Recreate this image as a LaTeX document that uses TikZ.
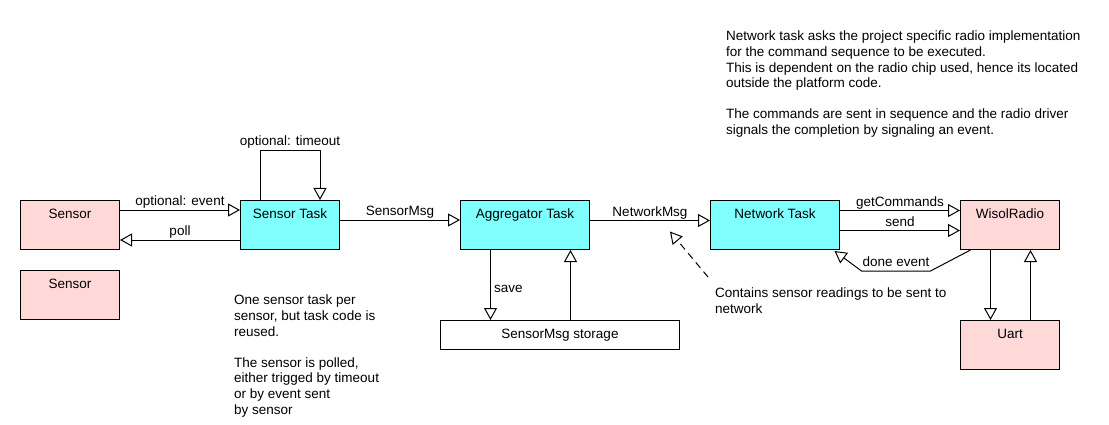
\documentclass[tikz,border=0pt]{standalone}
\usepackage{fontspec}
\setmainfont{Liberation Sans}
\usetikzlibrary{arrows.meta,calc}
\definecolor{sensorpink}{RGB}{255,216,216}
\definecolor{taskcyan}{RGB}{128,255,255}
\tikzset{
  box/.style={draw, line width=1pt, minimum width=99pt, inner xsep=0pt, inner ysep=0pt,
    text height=17.7pt, text depth=31.3pt, anchor=north west},
  pinkbox/.style={box, fill=sensorpink},
  cyanbox/.style={box, fill=taskcyan},
  lab/.style={font=\fontsize{13.5}{15.6}\selectfont, inner sep=0pt},
  edgelab/.style={lab, anchor=base, yshift=4.5pt},
  note/.style={lab, align=left, anchor=north west},
  conn/.style={line width=1pt, -{Triangle[open, length=12pt, width=13pt, line width=1pt]}},
  dconn/.style={conn, dash pattern=on 7pt off 5pt},
}
\begin{document}
\begin{tikzpicture}[x=1pt, y=-1pt, font=\fontsize{13.5}{15.6}\selectfont]
\useasboundingbox (0,0) rectangle (1109,425);
% boxes
\node[pinkbox] (sensorA) at (20,200) {Sensor};
\node[pinkbox] (sensorB) at (20,270) {Sensor};
\node[cyanbox] (sensorTask) at (240,200) {Sensor Task};
\node[cyanbox, minimum width=129pt] (aggr) at (460,200) {Aggregator Task};
\node[cyanbox, minimum width=129pt] (netTask) at (710,200) {Network Task};
\node[pinkbox] (wisol) at (960,200) {WisolRadio};
\node[pinkbox] (uart) at (960,320) {Uart};
\node[draw, line width=1pt, fill=white, minimum width=239pt, minimum height=29pt, inner sep=0pt, anchor=north west] (storage) at (440,320) {SensorMsg storage};
% notes
\node[note] (noteTop) at (726,31) {Network task asks the project specific radio implementation\\
for the command sequence to be executed.\\
This is dependent on the radio chip used, hence its located\\
outside the platform code.\\[15.6pt]
The commands are sent in sequence and the radio driver\\
signals the completion by signaling an event.};
\node[note] (noteSensor) at (234,295) {One sensor task per\\
sensor, but task code is\\
reused.\\[15.6pt]
The sensor is polled,\\
either trigged by timeout\\
or by event sent\\
by sensor};
\node[note] (noteNet) at (715,288) {Contains sensor readings to be sent to\\
network};
% helper coordinates on box edges
\coordinate (saveTop) at ($(aggr.south west)+(30.5,0)$);
\coordinate (loadTop) at ($(aggr.south west)+(110.5,0)$);
% connectors
\draw[conn] ($(sensorA.north east)+(0,10)$) -- node[edgelab] (l1) {optional: event} ($(sensorTask.north west)+(0,10)$);
\draw[conn] ($(sensorTask.north west)+(0,40)$) -- node[edgelab] (l2) {poll} ($(sensorA.north east)+(0,40)$);
\draw[conn] ($(sensorTask.north west)+(20,0)$) -- ++(0,-49.5) -- node[edgelab, yshift=0.5pt] (l3) {optional: timeout} ++(60,0) -- ($(sensorTask.north west)+(80,0)$);
\draw[conn] ($(sensorTask.north east)+(0,20)$) -- node[edgelab] (l4) {SensorMsg} ($(aggr.north west)+(0,20)$);
\draw[conn] ($(aggr.north east)+(0,20.5)$) -- node[edgelab] (l5) {NetworkMsg} ($(netTask.north west)+(0,20.5)$);
\draw[conn] ($(netTask.north east)+(0,10.5)$) -- node[edgelab] (l6) {getCommands} ($(wisol.north west)+(0,10.5)$);
\draw[conn] ($(netTask.north east)+(0,30.5)$) -- node[edgelab] (l7) {send} ($(wisol.north west)+(0,30.5)$);
\draw[conn] ($(wisol.south west)+(10.5,0)$) -- ++(-40,21) -- node[edgelab] (l8) {done event} ++(-69,0) -- ($(netTask.south east)+(-5.5,1)$);
\draw[conn] (saveTop) -- node[lab, pos=0.55, anchor=west, xshift=3pt] (l9) {save} (saveTop |- storage.north);
\draw[conn] (loadTop |- storage.north) -- (loadTop);
\draw[conn] ($(wisol.south west)+(30.5,0)$) -- ($(uart.north west)+(30.5,0)$);
\draw[conn] ($(uart.north west)+(70.5,0)$) -- ($(wisol.south west)+(70.5,0)$);
\coordinate (dashStart) at (708,277);
\coordinate (dashTip) at (670,231.5);
\draw[dconn] (dashStart) -- (dashTip);
\end{tikzpicture}
\end{document}
